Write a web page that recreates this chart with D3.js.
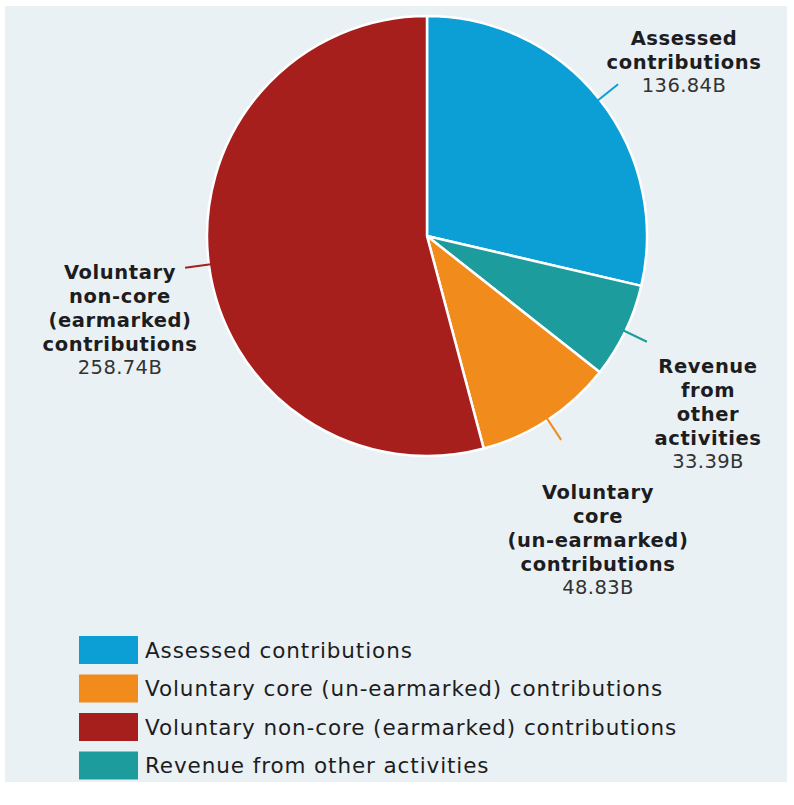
<!DOCTYPE html>
<html>
<head>
<meta charset="utf-8">
<script src="https://cdn.jsdelivr.net/npm/d3@7"></script>
<style>
  body { margin: 0; background: #ffffff; }
  svg { display: block; }
</style>
</head>
<body>
<div id="chart"></div>
<script>
// data, in the order the slices run clockwise from 12 o'clock
var sliceNames = ["Assessed contributions", "Revenue from other activities",
                  "Voluntary core (un-earmarked) contributions", "Voluntary non-core (earmarked) contributions"];
var sliceValues = [136.84, 33.39, 48.83, 258.74];
var sliceColors = ["#0b9fd6", "#1c9c9c", "#f18c1c", "#a61f1d"];
// label lines shown next to each slice (bold lines, then the value)
var sliceLabels = [
    ["Assessed", "contributions"],
    ["Revenue", "from", "other", "activities"],
    ["Voluntary", "core", "(un-earmarked)", "contributions"],
    ["Voluntary", "non-core", "(earmarked)", "contributions"]
];
var valueLabels = ["136.84B", "33.39B", "48.83B", "258.74B"];
// legend order
var legendNames = ["Assessed contributions", "Voluntary core (un-earmarked) contributions",
                   "Voluntary non-core (earmarked) contributions", "Revenue from other activities"];

var width = 794, height = 805;
var cx = 427, cy = 236, radius = 220;
var font = "'DejaVu Sans', sans-serif";

var svg = d3.select("#chart").append("svg")
    .attr("width", width)
    .attr("height", height);

// pale background panel
svg.append("rect")
    .attr("x", 5).attr("y", 6)
    .attr("width", 782).attr("height", 776)
    .attr("fill", "#e9f1f4");

var color = d3.scaleOrdinal().domain(sliceNames).range(sliceColors);

var pie = d3.pie().sort(null).value(d => d.value);
var dataset = sliceNames.map((n, i) => ({ name: n, value: sliceValues[i], index: i }));
var arcs = pie(dataset);

var g = svg.append("g").attr("transform", "translate(" + cx + "," + cy + ")");

var arc = d3.arc().innerRadius(0).outerRadius(radius);

g.selectAll("path.slice")
    .data(arcs)
    .enter()
    .append("path")
    .attr("class", "slice")
    .attr("d", arc)
    .attr("fill", d => color(d.data.name))
    .attr("stroke", "#ffffff")
    .style("stroke-width", "2.5px");

// short radial leader lines
var innerTick = d3.arc().innerRadius(radius - 2).outerRadius(radius - 2);
var outerTick = d3.arc().innerRadius(radius + 24).outerRadius(radius + 24);

g.selectAll("line.tick")
    .data(arcs)
    .enter()
    .append("line")
    .attr("x1", d => innerTick.centroid(d)[0])
    .attr("y1", d => innerTick.centroid(d)[1])
    .attr("x2", d => outerTick.centroid(d)[0])
    .attr("y2", d => outerTick.centroid(d)[1])
    .attr("stroke", d => color(d.data.name))
    .style("stroke-width", "2px");

// label blocks: centre x and first line y (page coords)
var labelPos = [[684, 45], [708, 373], [598, 499], [120, 279]];
var lineGap = 24;

arcs.forEach(function (d, i) {
    var t = svg.append("text")
        .attr("text-anchor", "middle")
        .style("font-family", font)
        .style("fill", "#1d1d1f");
    var lines = sliceLabels[i];
    lines.forEach(function (s, k) {
        t.append("tspan")
            .attr("x", labelPos[i][0])
            .attr("y", labelPos[i][1] + k * lineGap)
            .style("font-weight", "bold")
            .style("font-size", "19.5px")
            .style("letter-spacing", "0.6px")
            .text(s);
    });
    t.append("tspan")
        .attr("x", labelPos[i][0])
        .attr("y", labelPos[i][1] + lines.length * lineGap - 1)
        .style("font-size", "19.5px")
        .style("letter-spacing", "0.4px")
        .style("fill", "#333333")
        .text(valueLabels[i]);
});

// legend
var legend = svg.append("g").attr("transform", "translate(79,636)");
var item = legend.selectAll("g.item")
    .data(legendNames)
    .enter()
    .append("g")
    .attr("transform", (d, i) => "translate(0," + i * 38.5 + ")");

item.append("rect")
    .attr("width", 59)
    .attr("height", 28)
    .attr("fill", d => color(d));

item.append("text")
    .attr("x", 66)
    .attr("y", 14)
    .attr("dy", "0.35em")
    .style("font-family", font)
    .style("font-size", "21.5px")
    .style("letter-spacing", "0.9px")
    .style("fill", "#1d1d1f")
    .text(d => d);
</script>
</body>
</html>
